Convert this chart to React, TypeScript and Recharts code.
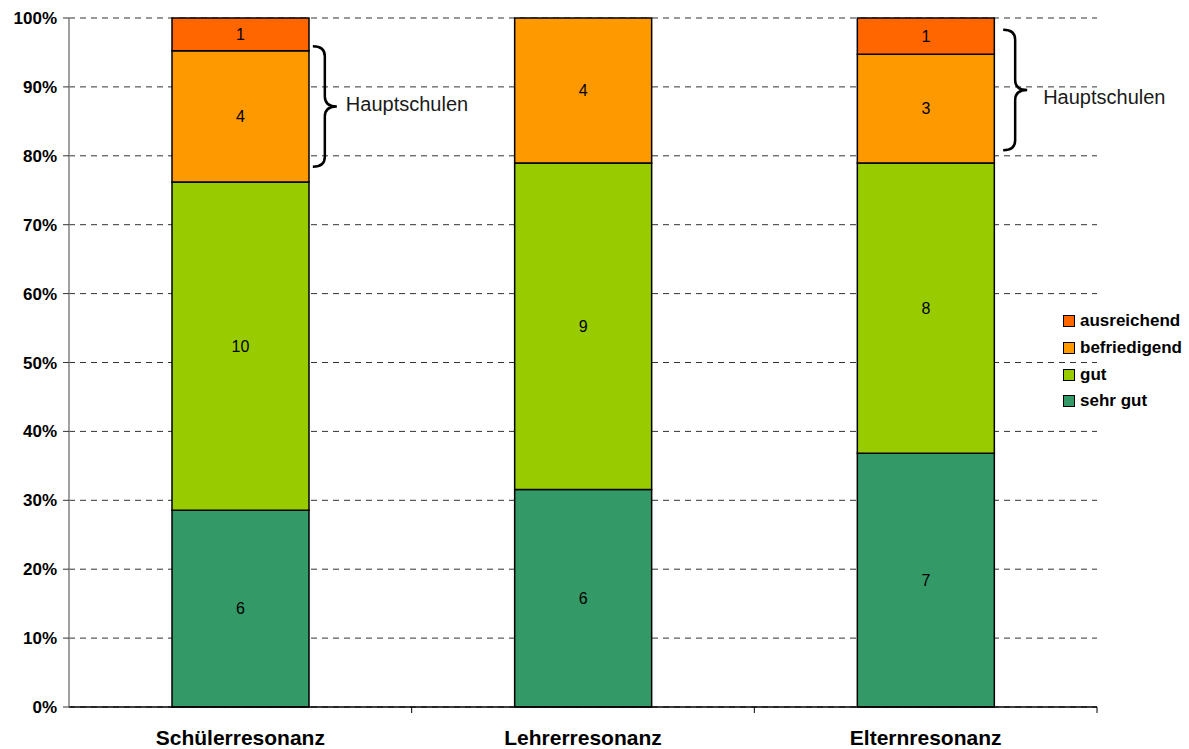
import React from 'react';
import { BarChart, Bar, XAxis, YAxis, CartesianGrid, LabelList, ReferenceArea } from 'recharts';

// Ratings per survey group (counts); bars are stacked to 100%
const categories = ['Schülerresonanz', 'Lehrerresonanz', 'Elternresonanz'];
const sehrGut = [6, 6, 7];
const gut = [10, 9, 8];
const befriedigend = [4, 4, 3];
const ausreichend = [1, 0, 1];

const yTicks = [0, 0.1, 0.2, 0.3, 0.4, 0.5, 0.6, 0.7, 0.8, 0.9, 1];

// Brace annotations: category index and share range (0..1) they span
const braceCategory = [0, 2];
const braceFrom = [0.784, 0.808];
const braceTo = [0.959, 0.983];
const braceText = ['Hauptschulen', 'Hauptschulen'];

// Brace styling: distance from bar edge, from brace tip to its text, text vertical shift
const braceGap = [4, 9];
const braceTextGap = [9, 16];
const braceTextShift = [-3, 7];

const series = [
  { key: 'sehrGut', name: 'sehr gut', color: '#339966' },
  { key: 'gut', name: 'gut', color: '#99CC00' },
  { key: 'befriedigend', name: 'befriedigend', color: '#FF9900' },
  { key: 'ausreichend', name: 'ausreichend', color: '#FF6600' },
];

const data = categories.map((name, i) => ({
  name,
  sehrGut: sehrGut[i],
  gut: gut[i],
  befriedigend: befriedigend[i],
  ausreichend: ausreichend[i],
}));

const W = 1189;
const H = 749;
const BAR = 137;
const FONT = '"Liberation Sans", Arial, Helvetica, sans-serif';

const pct = (v: number) => `${Math.round(v * 100)}%`;

const XTick = (props: any) => {
  const { x, y, payload } = props;
  const band = (1097 - 69) / categories.length;
  return (
    <g>
      <line x1={x + band / 2} y1={y - 8} x2={x + band / 2} y2={y - 2} stroke="#000" strokeWidth={1} />
      <text x={x} y={y + 30} textAnchor="middle" fontFamily={FONT} fontWeight="bold" fontSize={21} fill="#000">
        {payload.value}
      </text>
    </g>
  );
};

const makeBrace = (idx: number) => (props: any) => {
  const { x, y, width, height } = props;
  const band = width / categories.length;
  const x0 = x + band * (braceCategory[idx] + 0.5) + BAR / 2 + braceGap[idx];
  const w = 24;
  const xm = x0 + w / 2;
  const top = y;
  const bot = y + height;
  const mid = (top + bot) / 2;
  const r = 10;
  const d = `M ${x0} ${top} Q ${xm} ${top} ${xm} ${top + r} L ${xm} ${mid - r} Q ${xm} ${mid} ${x0 + w} ${mid} Q ${xm} ${mid} ${xm} ${mid + r} L ${xm} ${bot - r} Q ${xm} ${bot} ${x0} ${bot}`;
  return (
    <g>
      <path d={d} fill="none" stroke="#000" strokeWidth={2.5} />
      <text
        x={x0 + w + braceTextGap[idx]}
        y={mid + braceTextShift[idx]}
        dy="0.35em"
        fontFamily={FONT}
        fontSize={20}
        fill="#1a1a1a"
      >
        {braceText[idx]}
      </text>
    </g>
  );
};

const countLabel = (v: any) => (v ? String(v) : '');

export default function App() {
  return (
    <div style={{ position: 'absolute', left: 0, top: 0, width: W, height: H, background: '#fff' }}>
      <BarChart
        width={W}
        height={H}
        data={data}
        stackOffset="expand"
        margin={{ top: 18, right: 92, bottom: 0, left: 0 }}
      >
        <CartesianGrid vertical={false} stroke="#333" strokeDasharray="6 5" />
        <XAxis
          dataKey="name"
          height={42}
          axisLine={{ stroke: '#000', strokeWidth: 1.5 }}
          tickLine={false}
          tick={<XTick />}
          interval={0}
        />
        <YAxis
          width={69}
          domain={[0, 1]}
          ticks={yTicks}
          tickFormatter={pct}
          axisLine={{ stroke: '#808080', strokeWidth: 1.5 }}
          tickLine={{ stroke: '#333' }}
          tickSize={6}
          tick={{ fontFamily: FONT, fontWeight: 'bold', fontSize: 17, fill: '#000', dx: -4 }}
        />
        {series.map((s) => (
          <Bar
            key={s.key}
            dataKey={s.key}
            name={s.name}
            stackId="a"
            fill={s.color}
            stroke="#000"
            strokeWidth={1.5}
            barSize={BAR}
            isAnimationActive={false}
          >
            <LabelList
              dataKey={s.key}
              position="center"
              formatter={countLabel}
              style={{ fontFamily: FONT, fontSize: 16, fill: '#000' }}
            />
          </Bar>
        ))}
        {braceCategory.map((_, i) => (
          <ReferenceArea key={i} y1={braceFrom[i]} y2={braceTo[i]} shape={makeBrace(i)} ifOverflow="visible" />
        ))}
      </BarChart>
      <div style={{ position: 'absolute', left: 1063, top: 308, fontFamily: FONT }}>
        {[...series].reverse().map((s) => (
          <div key={s.key} style={{ display: 'flex', alignItems: 'center', height: 26.7 }}>
            <span
              style={{
                display: 'inline-block',
                width: 10,
                height: 10,
                background: s.color,
                border: '1px solid #000',
                marginRight: 5,
              }}
            />
            <span style={{ fontWeight: 'bold', fontSize: 17, color: '#000' }}>{s.name}</span>
          </div>
        ))}
      </div>
    </div>
  );
}
